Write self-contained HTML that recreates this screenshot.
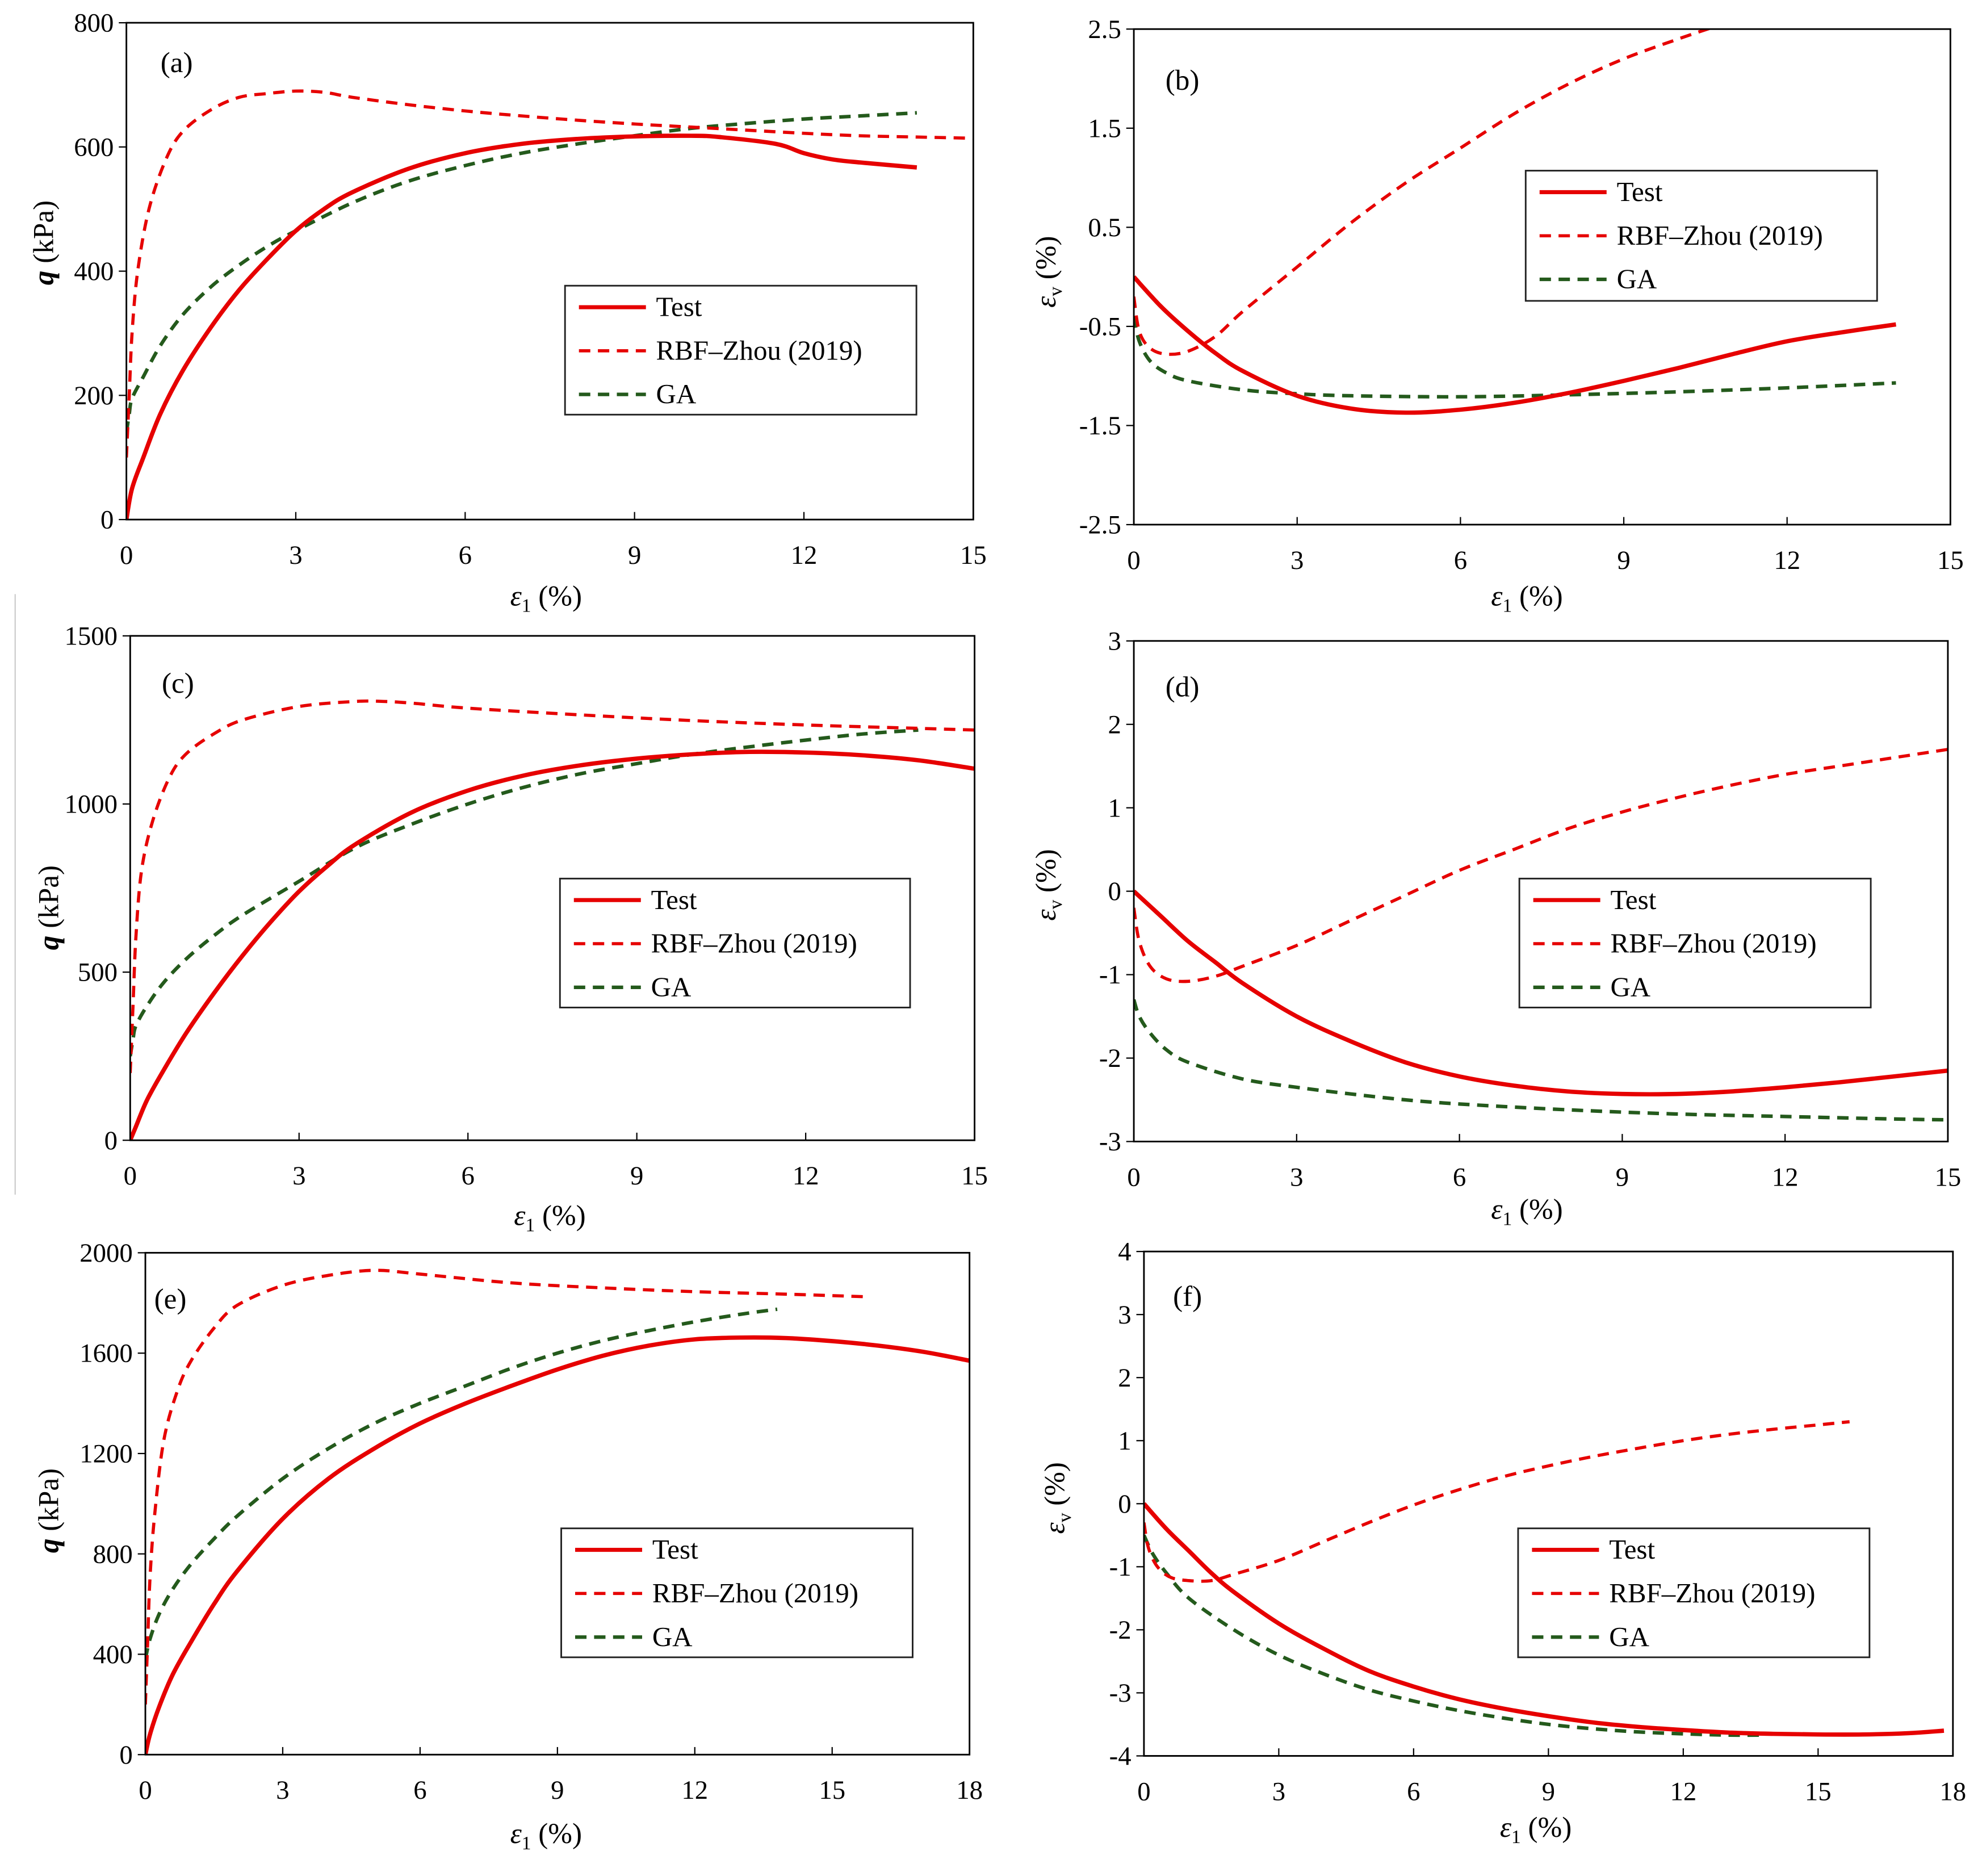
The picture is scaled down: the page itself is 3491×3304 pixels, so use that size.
<!DOCTYPE html>
<html><head><meta charset="utf-8">
<style>
html,body{margin:0;padding:0;background:#fff;}
svg{display:block;}
svg text{font-family:"Liberation Serif","Times New Roman",serif;fill:#000;}
</style></head>
<body>
<svg id="fig" xmlns="http://www.w3.org/2000/svg" width="3491" height="3304" viewBox="0 0 1568 1484" font-family="Liberation Serif, serif">
<rect x="0" y="0" width="1568" height="1484" fill="#fff"/>
<line x1="12" y1="470" x2="12" y2="945" stroke="#ccc" stroke-width="1"/>
</svg>
<script>
// ---- Panel (a) data ----
const aTestX=[0,0.1,0.3,0.6,1,1.5,2,2.5,3,3.5,4,5,6,7,8,9,10,10.5,11.5,12,12.5,13,14];
const aTestY=[0,50,100,170,240,310,370,420,465,500,527,565,590,605,613,617,618,616,605,590,580,575,567];
const aRbfX=[0,0.05,0.1,0.2,0.4,0.7,1,1.5,2,2.5,3,3.5,4,5,6,7,8,9,10,11,12,13,14,15];
const aRbfY=[100,200,300,400,500,580,625,660,680,686,690,688,680,668,658,650,643,637,632,627,622,618,616,614];
const aGaX=[0,0.05,0.1,0.3,0.6,1,1.5,2,2.5,3,4,5,6,7,8,9,10,11,12,13,14];
const aGaY=[140,170,195,230,280,330,375,410,440,465,510,545,570,590,605,618,630,638,645,650,655];
const aYTicks=["0","200","400","600","800"];
const aXTicks=["0","3","6","9","12","15"];
// ---- Panel (b) data ----
const bTestX=[0,0.5,1,1.5,2,3,4,5,6,7,8,9,10,11,12,13,14];
const bTestY=[0,-0.3,-0.55,-0.77,-0.95,-1.2,-1.33,-1.37,-1.34,-1.27,-1.17,-1.05,-0.92,-0.78,-0.65,-0.56,-0.48];
const bRbfX=[0,0.1,0.3,0.6,1,1.5,2,3,4,5,6,7,8,9,10,10.8,11.5];
const bRbfY=[-0.2,-0.55,-0.72,-0.78,-0.75,-0.6,-0.35,0.1,0.55,0.95,1.3,1.65,1.95,2.2,2.4,2.55,2.7];
const bGaX=[0,0.1,0.3,0.6,1,2,3,4,6,8,10,12,14];
const bGaY=[-0.4,-0.65,-0.85,-0.97,-1.05,-1.14,-1.18,-1.2,-1.21,-1.19,-1.16,-1.12,-1.07];
const bYTicks=["-2.5","-1.5","-0.5","0.5","1.5","2.5"];
const bXTicks=["0","3","6","9","12","15"];
// ---- Panel (c) data ----
const cTestX=[0,0.1,0.3,0.6,1,1.5,2,2.5,3,3.5,4,5,6,7,8,9,10,11,12,13,14,15];
const cTestY=[0,40,120,210,320,440,550,650,740,815,880,975,1040,1085,1115,1135,1148,1155,1153,1145,1130,1105];
const cRbfX=[0,0.05,0.1,0.2,0.4,0.7,1,1.5,2,3,4,4.5,5,6,8,10,12,14,15];
const cRbfY=[200,400,600,800,950,1080,1150,1210,1250,1290,1305,1305,1300,1285,1265,1248,1235,1225,1220];
const cGaX=[0,0.05,0.1,0.3,0.6,1,1.5,2,3,4,5,6,7,8,9,10,11,12,13,14];
const cGaY=[250,300,340,400,470,540,610,670,770,870,940,1000,1050,1090,1120,1148,1170,1190,1208,1220];
const cYTicks=["0","500","1000","1500"];
const cXTicks=["0","3","6","9","12","15"];
// ---- Panel (d) data ----
const dTestX=[0,0.5,1,1.5,2,3,4,5,6,7,8,9,10,11,12,13,14,15];
const dTestY=[0,-0.3,-0.6,-0.85,-1.1,-1.5,-1.8,-2.05,-2.22,-2.33,-2.4,-2.43,-2.43,-2.4,-2.35,-2.29,-2.22,-2.15];
const dRbfX=[0,0.1,0.3,0.6,1,1.5,2,3,4,5,6,7,8,9,10,11,12,13,14,15];
const dRbfY=[-0.2,-0.6,-0.9,-1.05,-1.08,-1.02,-0.9,-0.65,-0.35,-0.05,0.25,0.5,0.75,0.95,1.12,1.27,1.4,1.5,1.6,1.7];
const dGaX=[0,0.1,0.3,0.6,1,2,3,4,5,6,8,10,12,14,15];
const dGaY=[-1.3,-1.5,-1.7,-1.9,-2.05,-2.25,-2.35,-2.43,-2.5,-2.55,-2.62,-2.67,-2.7,-2.73,-2.74];
const dYTicks=["-3","-2","-1","0","1","2","3"];
const dXTicks=["0","3","6","9","12","15"];
// ---- Panel (e) data ----
const eTestX=[0,0.1,0.3,0.6,1,1.5,2,3,4,5,6,7,8,9,10,11,12,13,14,15,16,17,18];
const eTestY=[0,80,190,320,450,600,730,940,1100,1220,1320,1400,1470,1535,1590,1630,1655,1662,1660,1648,1630,1605,1570];
const eRbfX=[0,0.05,0.1,0.2,0.4,0.7,1,1.5,2,3,4,5,6,8,10,12,14,15.7];
const eRbfY=[200,450,700,950,1250,1450,1570,1700,1790,1870,1910,1930,1915,1880,1860,1845,1835,1825];
const eGaX=[0,0.1,0.3,0.6,1,1.5,2,3,4,5,6,7,8,9,10,11,12,13,13.8];
const eGaY=[380,460,560,660,760,860,950,1100,1220,1320,1400,1470,1540,1600,1650,1690,1725,1755,1775];
const eYTicks=["0","400","800","1200","1600","2000"];
const eXTicks=["0","3","6","9","12","15","18"];
// ---- Panel (f) data ----
const fTestX=[0,0.5,1,1.5,2,3,4,5,6,7,8,9,10,11,12,13,14,15,16,17,17.8];
const fTestY=[0,-0.4,-0.75,-1.1,-1.4,-1.9,-2.3,-2.65,-2.9,-3.1,-3.25,-3.37,-3.47,-3.54,-3.59,-3.63,-3.65,-3.66,-3.66,-3.64,-3.6];
const fRbfX=[0,0.1,0.3,0.6,1,1.5,2,3,4,5,6,7,8,9,10,11,12,13,14,15,15.7];
const fRbfY=[-0.3,-0.7,-1.0,-1.17,-1.22,-1.22,-1.12,-0.9,-0.6,-0.3,-0.02,0.22,0.43,0.6,0.75,0.88,1.0,1.1,1.18,1.25,1.3];
const fGaX=[0,0.2,0.5,1,2,3,4,5,6,7,8,9,10,11,12,13,13.8];
const fGaY=[-0.5,-0.8,-1.1,-1.5,-2.0,-2.4,-2.7,-2.95,-3.13,-3.28,-3.4,-3.5,-3.57,-3.62,-3.65,-3.67,-3.67];
const fYTicks=["-4","-3","-2","-1","0","1","2","3","4"];
const fXTicks=["0","3","6","9","12","15","18"];

const NS="http://www.w3.org/2000/svg";
const svg=document.getElementById('fig');
const RED="#e60000", GREEN="#245a1c";
const FONT="'Liberation Serif', 'Times New Roman', serif";
function mk(tag,attrs,parent){const e=document.createElementNS(NS,tag);for(const k in attrs)e.setAttribute(k,attrs[k]);if(tag==='text')e.setAttribute('font-family',FONT);(parent||svg).appendChild(e);return e;}
function smoothPath(P){
  let d='M'+P[0][0].toFixed(2)+','+P[0][1].toFixed(2);
  for(let i=0;i<P.length-1;i++){
    const p0=P[Math.max(0,i-1)],p1=P[i],p2=P[i+1],p3=P[Math.min(P.length-1,i+2)];
    const c1x=p1[0]+(p2[0]-p0[0])/6,c1y=p1[1]+(p2[1]-p0[1])/6;
    const c2x=p2[0]-(p3[0]-p1[0])/6,c2y=p2[1]-(p3[1]-p1[1])/6;
    d+=' C'+c1x.toFixed(2)+','+c1y.toFixed(2)+' '+c2x.toFixed(2)+','+c2y.toFixed(2)+' '+p2[0].toFixed(2)+','+p2[1].toFixed(2);
  }
  return d;
}

function panel(cfg){
  const g=mk('g',{});
  
  
  const {x0,x1,y0,y1,xmin,xmax,ymin,ymax}=cfg;
  const sx=v=>x0+(v-xmin)/(xmax-xmin)*(x1-x0);
  const sy=v=>y1-(v-ymin)/(ymax-ymin)*(y1-y0);
  const cp=mk('clipPath',{id:'clip-'+cfg.id},g);
  mk('rect',{x:x0,y:y0,width:x1-x0,height:y1-y0},cp);
  cfg.yt.forEach(t=>{const v=parseFloat(t),y=sy(v);
    const tk=mk('line',{x1:x0-6,y1:y,x2:x0,y2:y,stroke:'#000','stroke-width':1},g);
    
    
    const tx=mk('text',{x:x0-10,y:y+7,'text-anchor':'end','font-size':21},g);
    
    
    tx.textContent=t;});
  cfg.xt.forEach(t=>{const v=parseFloat(t),x=sx(v);
    const tk=mk('line',{x1:x,y1:y1,x2:x,y2:y1-6,stroke:'#000','stroke-width':1},g);
    
    
    const tx=mk('text',{x:x,y:y1+35,'text-anchor':'middle','font-size':21},g);
    
    
    tx.textContent=t;});
  function series(xs,ys,color,dash,w,name){
    const P=xs.map((v,i)=>[sx(v),sy(ys[i])]);
    const p=mk('path',{d:smoothPath(P),fill:'none',stroke:color,'stroke-width':w,'stroke-linejoin':'round','clip-path':'url(#clip-'+cfg.id+')'},g);
    if(dash)p.setAttribute('stroke-dasharray',dash);
    
    
  }
  series(cfg.ga[0],cfg.ga[1],GREEN,'9,6',2.8,'ga-series');
  series(cfg.rbf[0],cfg.rbf[1],RED,'9,6',2.5,'rbf-zhou-series');
  series(cfg.test[0],cfg.test[1],RED,null,3.4,'test-series');
  const fr=mk('rect',{x:x0,y:y0,width:x1-x0,height:y1-y0,fill:'none',stroke:'#000','stroke-width':1.3},g);
  
  
  const lab=mk('text',{x:cfg.lab[0],y:cfg.lab[1],'font-size':23},g);
  
  
  lab.textContent='('+cfg.id+')';
  const [lx0,ly0,lx1,ly1]=cfg.leg;
  const lg=mk('g',{},g);
  
  
  mk('rect',{x:lx0,y:ly0,width:lx1-lx0,height:ly1-ly0,fill:'#fff',stroke:'#222','stroke-width':1.3},lg);
  const items=[['Test',RED,null,3.2],['RBF\u2013Zhou (2019)',RED,'9,6',2.5],['GA',GREEN,'9,6',2.8]];
  items.forEach((it,i)=>{const y=ly0+17+i*34.5;
    const l=mk('line',{x1:lx0+11,y1:y,x2:lx0+64,y2:y,stroke:it[1],'stroke-width':it[3]},lg);
    if(it[2])l.setAttribute('stroke-dasharray',it[2]);
    
    
    const t=mk('text',{x:lx0+72,y:y+7,'font-size':22},lg);
    
    
    t.textContent=it[0];});
  const xl=mk('text',{x:cfg.xl[0],y:cfg.xl[1],'text-anchor':'middle','font-size':23},g);
  
  
  xl.innerHTML='<tspan font-style="italic">ε</tspan><tspan font-size="15" dy="5">1</tspan><tspan dy="-5"> (%)</tspan>';
  const yl=mk('text',{x:0,y:0,'text-anchor':'middle','font-size':23,transform:'translate('+cfg.yl[0]+','+cfg.yl[1]+') rotate(-90)'},g);
  
  
  if(cfg.q) yl.innerHTML='<tspan font-style="italic" font-weight="bold">q</tspan><tspan> (kPa)</tspan>';
  else yl.innerHTML='<tspan font-style="italic">ε</tspan><tspan font-size="15" dy="5">v</tspan><tspan dy="-5"> (%)</tspan>';
}
panel({id:'a',x0:100,x1:770,y0:18,y1:411,xmin:0,xmax:15,ymin:0,ymax:800,yt:aYTicks,xt:aXTicks,test:[aTestX,aTestY],rbf:[aRbfX,aRbfY],ga:[aGaX,aGaY],lab:[127,57],leg:[447,226,725,328],xl:[432,479],yl:[42,192],q:true});
panel({id:'b',x0:897,x1:1543,y0:23,y1:415,xmin:0,xmax:15,ymin:-2.5,ymax:2.5,yt:bYTicks,xt:bXTicks,test:[bTestX,bTestY],rbf:[bRbfX,bRbfY],ga:[bGaX,bGaY],lab:[922,71],leg:[1207,135,1485,238],xl:[1208,479],yl:[835,215],q:false});
panel({id:'c',x0:103,x1:771,y0:503,y1:902,xmin:0,xmax:15,ymin:0,ymax:1500,yt:cYTicks,xt:cXTicks,test:[cTestX,cTestY],rbf:[cRbfX,cRbfY],ga:[cGaX,cGaY],lab:[128,548],leg:[443,695,720,797],xl:[435,969],yl:[46,718],q:true});
panel({id:'d',x0:897,x1:1541,y0:507,y1:903,xmin:0,xmax:15,ymin:-3,ymax:3,yt:dYTicks,xt:dXTicks,test:[dTestX,dTestY],rbf:[dRbfX,dRbfY],ga:[dGaX,dGaY],lab:[922,551],leg:[1202,695,1480,797],xl:[1208,964],yl:[835,700],q:false});
panel({id:'e',x0:115,x1:767,y0:991,y1:1388,xmin:0,xmax:18,ymin:0,ymax:2000,yt:eYTicks,xt:eXTicks,test:[eTestX,eTestY],rbf:[eRbfX,eRbfY],ga:[eGaX,eGaY],lab:[122,1035],leg:[444,1209,722,1311],xl:[432,1458],yl:[46,1195],q:true});
panel({id:'f',x0:905,x1:1545,y0:990,y1:1389,xmin:0,xmax:18,ymin:-4,ymax:4,yt:fYTicks,xt:fXTicks,test:[fTestX,fTestY],rbf:[fRbfX,fRbfY],ga:[fGaX,fGaY],lab:[928,1033],leg:[1201,1209,1479,1311],xl:[1215,1453],yl:[842,1185],q:false});
</script>
</body></html>
